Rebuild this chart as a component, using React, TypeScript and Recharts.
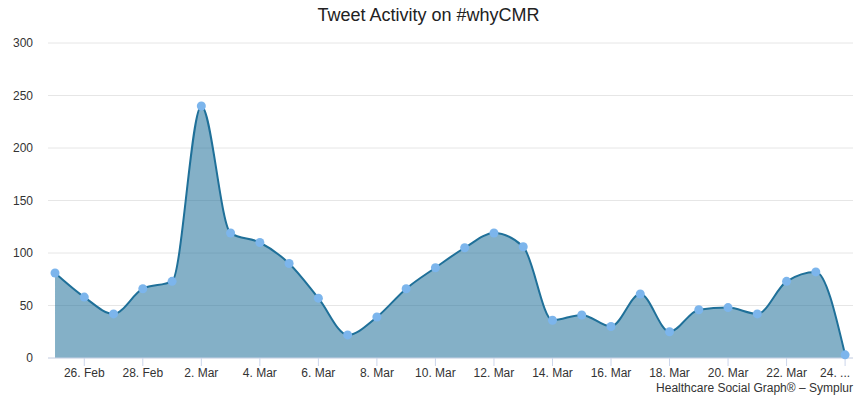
import React from 'react';
import { AreaChart, Area, XAxis, YAxis, CartesianGrid } from 'recharts';

// Tweets per day, 25 Feb - 24 Mar
const days = [
  '25. Feb', '26. Feb', '27. Feb', '28. Feb', '1. Mar', '2. Mar', '3. Mar',
  '4. Mar', '5. Mar', '6. Mar', '7. Mar', '8. Mar', '9. Mar', '10. Mar',
  '11. Mar', '12. Mar', '13. Mar', '14. Mar', '15. Mar', '16. Mar', '17. Mar',
  '18. Mar', '19. Mar', '20. Mar', '21. Mar', '22. Mar', '23. Mar', '24. ...'
];
const tweets = [
  81, 58, 42, 66, 73, 240, 119, 110, 90, 57, 22, 39, 66, 86,
  105, 119, 106, 36, 41, 30, 61, 25, 46, 48, 42, 73, 82, 3
];
const xTicks = [1, 3, 5, 7, 9, 11, 13, 15, 17, 19, 21, 23, 25, 27];
const yTicks = [0, 50, 100, 150, 200, 250, 300];

const data = days.map((d, i) => ({ i, day: d, tweets: tweets[i] }));

const FONT = '"Liberation Sans", Arial, Helvetica, sans-serif';

const DayTick = (props: any) => {
  const { x, y, payload } = props;
  const last = payload.value === xTicks[xTicks.length - 1];
  return (
    <text
      x={last ? x + 5 : x}
      y={y}
      dy="0.71em"
      textAnchor={last ? 'end' : 'middle'}
      fill="#333"
      fontSize={12}
      fontFamily={FONT}
    >
      {days[payload.value]}
    </text>
  );
};

export default function App() {
  return (
    <div style={{ position: 'absolute', left: 0, top: 0, width: 857, height: 397, fontFamily: FONT }}>
      <AreaChart
        width={857}
        height={397}
        data={data}
        margin={{ top: 43, right: 4, bottom: 9, left: 0 }}
      >
        <CartesianGrid vertical={false} stroke="#e6e6e6" />
        <XAxis
          dataKey="i"
          type="number"
          domain={[-0.24, 27.27]}
          allowDataOverflow
          ticks={xTicks}
          stroke="#ccd6eb"
          tickSize={8}
          tickMargin={2}
          tick={<DayTick />}
          interval={0}
          height={30}
        />
        <YAxis
          domain={[0, 300]}
          ticks={yTicks}
          width={48}
          axisLine={false}
          tickLine={false}
          tickMargin={9}
          tick={{ fill: '#333', fontSize: 12, fontFamily: FONT }}
        />
        <Area
          type="monotone"
          dataKey="tweets"
          stroke="#1f7099"
          strokeWidth={2}
          fill="#1f7099"
          fillOpacity={0.55}
          dot={{ r: 4.5, fill: '#7cb5ec', stroke: 'none', fillOpacity: 1 }}
          isAnimationActive={false}
        />
      </AreaChart>
      <div
        style={{
          position: 'absolute', left: 0, top: 5, width: 857, textAlign: 'center',
          fontSize: 18, color: '#222',
        }}
      >
        Tweet Activity on #whyCMR
      </div>
      <div
        style={{
          position: 'absolute', right: 4, top: 381, fontSize: 12, color: '#333',
        }}
      >
        Healthcare Social Graph® – Symplur
      </div>
    </div>
  );
}
